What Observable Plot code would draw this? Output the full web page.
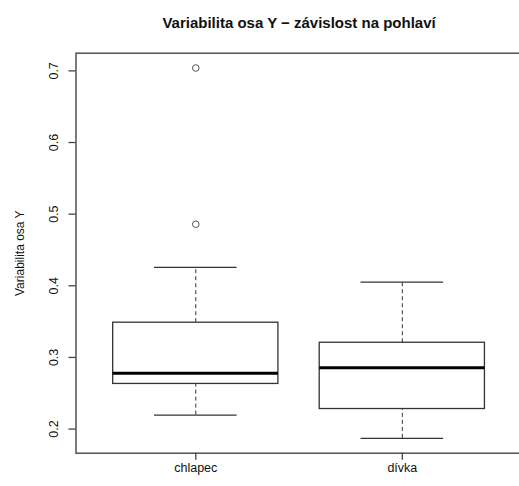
<!DOCTYPE html>
<html>
<head>
<meta charset="utf-8">
<script src="https://cdn.jsdelivr.net/npm/d3@7"></script>
<script src="https://cdn.jsdelivr.net/npm/@observablehq/plot@0.6"></script>
<style>
  html, body { margin: 0; padding: 0; background: #fff; overflow: hidden; }
</style>
</head>
<body>
<div id="chart"></div>
<script>
const categories = ["chlapec", "dívka"];
const lowerWhisker = [0.2195, 0.187];
const q1 = [0.263, 0.228];
const median = [0.278, 0.2857];
const q3 = [0.3485, 0.3205];
const upperWhisker = [0.4256, 0.405];
const outlierGroup = ["chlapec", "chlapec"];
const outlierValues = [0.704, 0.486];
const yTicks = [0.2, 0.3, 0.4, 0.5, 0.6, 0.7];
const title = "Variabilita osa Y − závislost na pohlaví";
const yLabel = "Variabilita osa Y";

const stats = categories.map((c, i) => ({
  pos: i + 1, cat: c,
  lo: lowerWhisker[i], q1: q1[i], med: median[i], q3: q3[i], hi: upperWhisker[i]
}));
const outliers = outlierValues.map((v, i) => ({pos: categories.indexOf(outlierGroup[i]) + 1, v}));

// R-style 4% padding on data range
const allVals = [...lowerWhisker, ...upperWhisker, ...outlierValues];
const ymin = d3.min(allVals), ymax = d3.max(allVals);
const pad = (ymax - ymin) * 0.04;
const xPad = (categories.length) * 0.04;

const ink = "#333";

const chart = Plot.plot({
  width: 519,
  height: 486,
  marginLeft: 75.5,
  marginRight: -2.6,
  marginTop: 52.7,
  marginBottom: 33.3,
  style: {fontFamily: "'Liberation Sans', Arial, sans-serif", color: "#111", background: "#fff"},
  x: {domain: [0.5 - xPad, categories.length + 0.5 + xPad]},
  y: {domain: [ymin - pad, ymax + pad]},
  marks: [
    Plot.frame({stroke: "#444", strokeWidth: 1.4}),
    // whiskers
    Plot.ruleX(stats, {x: "pos", y1: "q3", y2: "hi", stroke: ink, strokeWidth: 1, strokeDasharray: "4,3"}),
    Plot.ruleX(stats, {x: "pos", y1: "lo", y2: "q1", stroke: ink, strokeWidth: 1, strokeDasharray: "4,3"}),
    // caps
    Plot.ruleY(stats, {y: "hi", x1: d => d.pos - 0.2, x2: d => d.pos + 0.2, stroke: ink, strokeWidth: 1.3}),
    Plot.ruleY(stats, {y: "lo", x1: d => d.pos - 0.2, x2: d => d.pos + 0.2, stroke: ink, strokeWidth: 1.3}),
    // boxes
    Plot.rect(stats, {x1: d => d.pos - 0.4, x2: d => d.pos + 0.4, y1: "q1", y2: "q3", fill: "white", stroke: ink, strokeWidth: 1.3}),
    // medians
    Plot.ruleY(stats, {y: "med", x1: d => d.pos - 0.4, x2: d => d.pos + 0.4, stroke: "#000", strokeWidth: 3}),
    // outliers
    Plot.dot(outliers, {x: "pos", y: "v", r: 3.3, stroke: "#555", strokeWidth: 1, fill: "none"}),
    // axes
    Plot.axisY({ticks: yTicks, tickSize: 7, tickFormat: () => "", stroke: "#444", strokeWidth: 1.3, label: null}),
    Plot.text(yTicks, {y: d => d, text: d => d.toFixed(1), frameAnchor: "left", dx: -22.5, rotate: -90,
      textAnchor: "middle", lineAnchor: "middle", fontSize: 12.5, fill: "#111"}),
    Plot.axisX({ticks: categories.map((c, i) => i + 1), tickFormat: d => categories[d - 1], tickSize: 7, tickPadding: 3,
      fontSize: 12.5, stroke: "#444", strokeWidth: 1.3, label: null}),
    Plot.text([yLabel], {frameAnchor: "left", dx: -55.5, rotate: -90, textAnchor: "middle", lineAnchor: "middle",
      fontSize: 12, fill: "#111"}),
    Plot.text([title], {frameAnchor: "top", dy: -30, textAnchor: "middle", lineAnchor: "middle",
      fontSize: 15, fontWeight: "bold", fill: "#111"})
  ]
});
document.getElementById("chart").appendChild(chart);
</script>
</body>
</html>
